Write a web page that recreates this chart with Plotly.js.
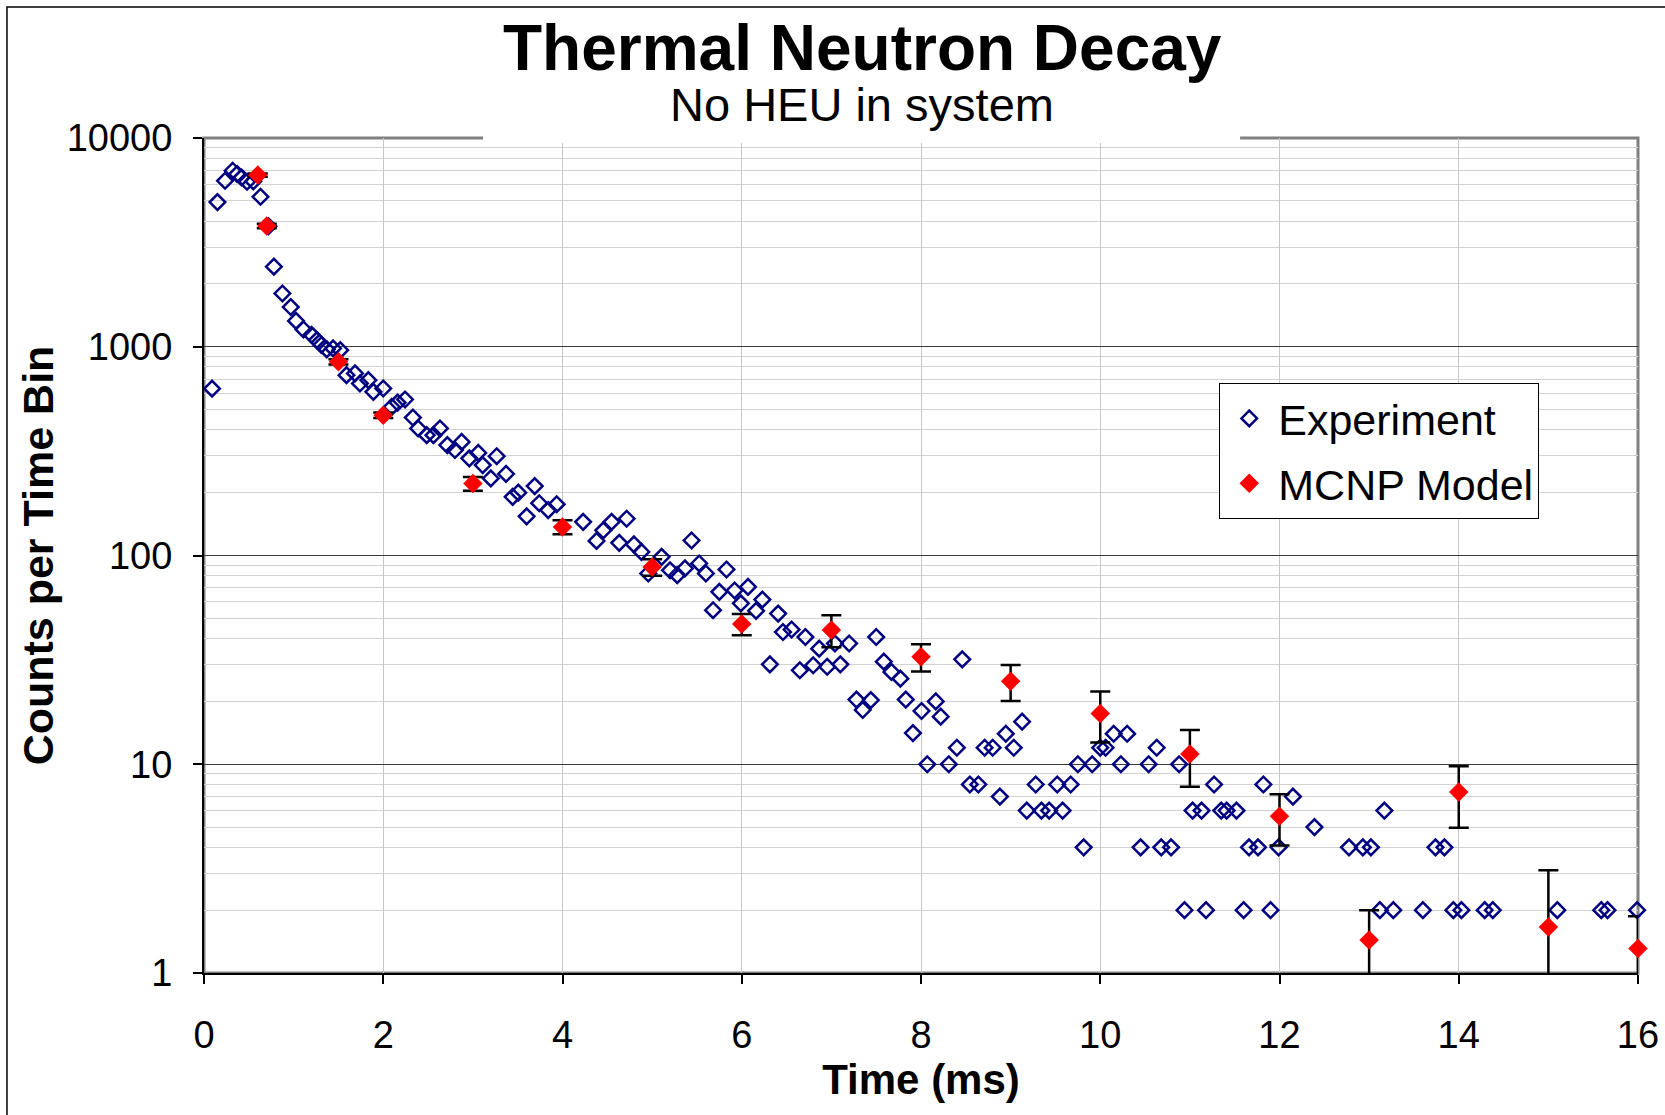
<!DOCTYPE html>
<html>
<head>
<meta charset="utf-8">
<script src="https://cdn.plot.ly/plotly-3.0.1.min.js"></script>
<style>html,body{margin:0;padding:0;background:#fff;}#chart{width:1665px;height:1115px;}</style>
</head>
<body>
<div id="chart"></div>
<script>
// ---- Data ----
const expTime = [0.09,0.15,0.235,0.32,0.37,0.42,0.48,0.55,0.63,0.72,0.78,0.875,0.968,1.027,1.11,1.20,1.26,1.31,1.37,1.44,1.52,1.59,1.685,1.74,1.834,1.89,2.0,2.095,2.16,2.243,2.33,2.39,2.485,2.56,2.633,2.715,2.80,2.875,2.96,3.06,3.11,3.20,3.266,3.37,3.444,3.507,3.60,3.69,3.74,3.84,3.935,4.23,4.38,4.455,4.548,4.633,4.716,4.797,4.88,4.957,5.106,5.2,5.28,5.366,5.44,5.525,5.6,5.68,5.75,5.83,5.92,5.99,6.07,6.16,6.23,6.314,6.406,6.46,6.556,6.648,6.71,6.797,6.864,6.953,7.04,7.10,7.198,7.28,7.35,7.44,7.50,7.585,7.67,7.77,7.83,7.91,8.006,8.07,8.165,8.22,8.31,8.40,8.46,8.545,8.64,8.71,8.80,8.88,8.946,9.035,9.128,9.18,9.28,9.344,9.43,9.52,9.58,9.67,9.75,9.815,9.91,10.0,10.06,10.15,10.23,10.30,10.45,10.54,10.63,10.68,10.79,10.88,10.94,11.03,11.13,11.18,11.27,11.35,11.41,11.52,11.6,11.66,11.76,11.82,11.90,11.99,12.15,12.39,12.775,12.93,13.02,13.12,13.17,13.27,13.6,13.74,13.84,13.94,14.03,14.29,14.38,15.1,15.59,15.66,15.99];
const expCounts = [630,4930,6240,6970,6720,6470,6170,6200,5230,3780,2420,1800,1550,1330,1210,1140,1076,1020,971,982,963,731,745,667,692,608,631,515,540,559,458,406,377,377,406,338,320,350,292,310,271,234,299,246,191,200,154,215,178,165,176,145,117.5,132,145,115,150,113,104,82,98.5,85,80.5,86.7,118,91.6,82,54.7,67,85.7,68,59,70.7,54.3,61.5,30.1,52.7,43,44.2,28.2,40.7,29.8,35.8,29.3,37.9,30.1,37.9,20.4,18.2,20.3,40.7,31,27.7,25.7,20.4,14.1,18,10,20,16.9,10,12,31.8,8,8,12,12,7,14,12,16,6,8,6,6,8,6,8,10,4,10,12,12,14,10,14,4,10,12,4,4,10,2,6,6,2,8,6,6,6,2,4,4,8,2,4,7,5,4,4,4,2,6,2,2,4,4,2,2,2,2,2,2,2,2];

const mcnpTime = [0.6,0.7,1.5,2,3,4,5,6,7,8,9,10,11,12,13,14,15,16];
const mcnpCounts = [6640,3790,847,470,221,137,88,47,44,32.7,25,17.5,11.2,5.63,1.44,7.37,1.66,1.31];
const mcnpErrPlus = [120,90,25,14,17,10.5,8,5.5,7.7,4.9,4.9,4.8,3.4,1.55,0.56,2.4,1.45,0.56];
const mcnpErrMinus = [120,90,25,14,17,10.5,8,5.5,7.7,4.9,4.9,4.8,3.4,1.55,0.49,2.4,0.71,0.36];

const xTickVals = [0,2,4,6,8,10,12,14,16];
const yTickVals = [1,10,100,1000,10000];
const yTickText = ['1','10','100','1000','10000'];

const seriesNames = ['Experiment','MCNP Model'];
const titleText = 'Thermal Neutron Decay';
const subtitleText = 'No HEU in system';
const xTitle = 'Time (ms)';
const yTitle = 'Counts per Time Bin';

// ---- Chart ----
const FONT = '"Liberation Sans", Arial, sans-serif';

const traces = [
  {
    x: expTime, y: expCounts, name: seriesNames[0], legendgroup: 'g1',
    type: 'scatter', mode: 'markers', cliponaxis: false,
    marker: {symbol: 'diamond-open', size: 12, color: '#000080', line: {width: 2.5, color: '#000080'}}
  },
  {
    x: mcnpTime, y: mcnpCounts, name: seriesNames[1], legendgroup: 'g2',
    type: 'scatter', mode: 'markers', cliponaxis: false,
    marker: {symbol: 'diamond', size: 15, color: '#ff0000', line: {width: 0}},
    error_y: {type: 'data', symmetric: false, array: mcnpErrPlus, arrayminus: mcnpErrMinus,
              color: '#000000', thickness: 2.5, width: 10}
  }
];

const layout = {
  width: 1665, height: 1115,
  margin: {l: 204, r: 27, t: 138, b: 142, pad: 0},
  paper_bgcolor: '#ffffff', plot_bgcolor: '#ffffff',
  font: {family: FONT, color: '#000000'},
  showlegend: true,
  legend: {
    x: 0.708, y: 0.7066, xanchor: 'left', yanchor: 'top',
    bgcolor: '#ffffff', bordercolor: '#000000', borderwidth: 1,
    font: {family: FONT, size: 43, color: '#000000'},
    traceorder: 'grouped', tracegroupgap: 6, itemwidth: 48
  },
  xaxis: {
    range: [0, 16], tickmode: 'array', tickvals: xTickVals,
    showgrid: true, gridcolor: '#c8c8c8', gridwidth: 1, zeroline: false,
    showline: true, linecolor: '#000000', linewidth: 2, mirror: false,
    ticks: 'outside', ticklen: 9, tickwidth: 2, tickcolor: '#000000',
    tickfont: {family: FONT, size: 38, color: '#000000'},
    ticklabelstandoff: 18,
    title: {text: '<b>' + xTitle + '</b>', font: {family: FONT, size: 42, color: '#000000'}, standoff: 6}
  },
  yaxis: {
    type: 'log', range: [0, 4], tickmode: 'array', tickvals: yTickVals, ticktext: yTickText,
    showgrid: true, gridcolor: '#3a3a3a', gridwidth: 1, zeroline: false,
    showline: true, linecolor: '#000000', linewidth: 2, mirror: false,
    ticks: 'outside', ticklen: 9, tickwidth: 2, tickcolor: '#000000',
    tickfont: {family: FONT, size: 38, color: '#000000'},
    ticklabelstandoff: 13,
    minor: {showgrid: true, gridcolor: '#d2d2d2', gridwidth: 1, dtick: 'D1', ticks: ''},
    title: {text: '<b>' + yTitle + '</b>', font: {family: FONT, size: 43, color: '#000000'}, standoff: 0}
  },
  shapes: [
    // grey plot-area frame (top and right edges visible)
    {type: 'rect', xref: 'paper', yref: 'paper', x0: 0, x1: 1, y0: 0, y1: 1,
     line: {color: '#808080', width: 3}, fillcolor: 'rgba(0,0,0,0)', layer: 'between'},
    // white gap behind the title in the top frame edge
    {type: 'rect', xref: 'paper', yref: 'paper', x0: 0.1946, x1: 0.7225, y0: 0.994, y1: 1.01,
     line: {width: 0}, fillcolor: '#ffffff', layer: 'above'},
    // outer chart border
    {type: 'rect', xref: 'paper', yref: 'paper', x0: -0.1374, x1: 1.05, y0: -0.25, y1: 1.1569,
     line: {color: '#000000', width: 1.5}, fillcolor: 'rgba(0,0,0,0)', layer: 'below'}
  ],
  annotations: [
    {text: '<b>' + titleText + '</b>', xref: 'paper', yref: 'paper', x: 0.459, y: 1.1075,
     xanchor: 'center', yanchor: 'middle', showarrow: false,
     font: {family: FONT, size: 64, color: '#000000'}},
    {text: subtitleText, xref: 'paper', yref: 'paper', x: 0.459, y: 1.040,
     xanchor: 'center', yanchor: 'middle', showarrow: false,
     font: {family: FONT, size: 47, color: '#000000'}}
  ]
};

Plotly.newPlot('chart', traces, layout, {displayModeBar: false, staticPlot: true});
</script>
</body>
</html>
